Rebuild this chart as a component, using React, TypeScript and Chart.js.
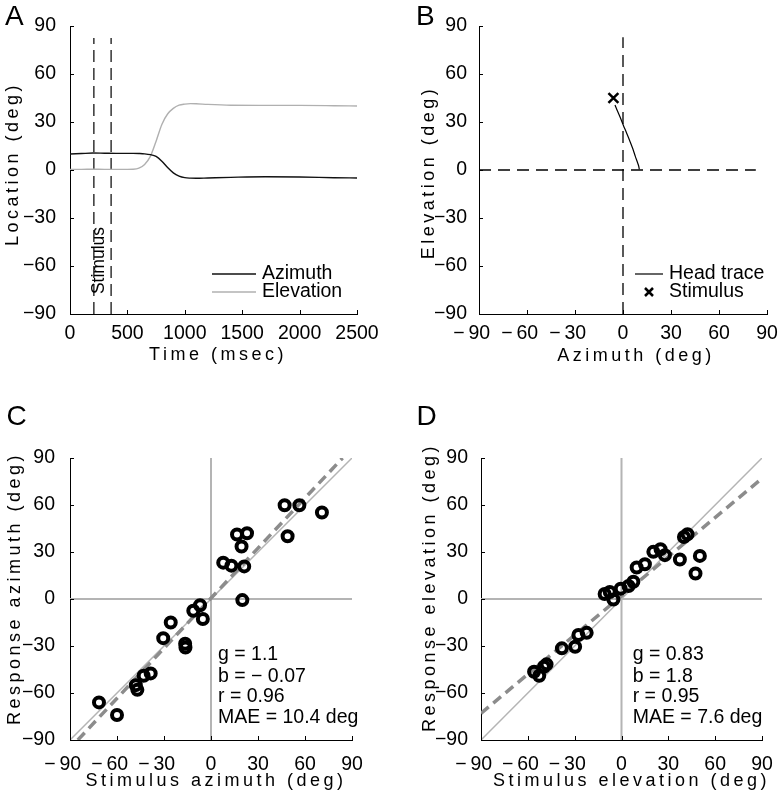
import React, { useEffect, useRef } from 'react';
import { Chart, registerables } from 'chart.js';

Chart.register(...registerables);

const FONT = "'Liberation Sans', Arial, Helvetica, sans-serif";

// ---------------- Panel A: head trace vs time ----------------
const timeMs = [0, 100, 200, 300, 400, 500, 550, 600, 650, 700, 750, 800, 850, 900, 950, 1000, 1050, 1100, 1200, 1400, 1700, 2000, 2300, 2500];
const azimuthDeg = [10.0, 10.3, 10.6, 10.5, 10.4, 10.4, 10.4, 10.3, 10.1, 9.6, 8.5, 5.5, 1.5, -1.8, -3.8, -4.8, -5.1, -5.2, -5.0, -4.6, -4.2, -4.4, -4.8, -5.0];
const elevationDeg = [0.4, 0.4, 0.5, 0.4, 0.4, 0.4, 0.5, 1.2, 3.5, 8.5, 18.0, 28.5, 35.0, 38.5, 40.5, 41.2, 41.5, 41.4, 41.0, 40.5, 40.4, 40.4, 40.2, 40.0];
const stimulusOnOffMs = [208, 358];
const stimulusLineSpan = [-90, 82.5];
const timeAxis = [0, 2500, 500];
const degAxis = [-90, 90, 30];

// ---------------- Panel B: head trace in space ----------------
const traceAz = [10.2, 9.8, 8.9, 7.7, 6.4, 4.5, 2.3, 0.2, -1.9, -3.6, -5.0];
const traceEl = [0.4, 2.5, 5.2, 8.5, 12.5, 17.5, 23.0, 28.0, 33.3, 37.2, 40.6];
const stimAz = [-6];
const stimEl = [45];
const refLineSpan = [-90, 83];

// ---------------- Panel C: azimuth responses ----------------
const cStimulusAz = [-71.5, -60, -48, -47, -43, -38.5, -30.5, -25.7, -16.5, -16.3, -11.3, -7, -5.2, 7.8, 13, 16.6, 23, 19.5, 21.2, 20, 47, 56.4, 48.9, 70.8];
const cResponseAz = [-66, -74, -55, -58, -49, -47.5, -25, -15, -28.5, -31, -7.5, -4, -12.8, 23.2, 21.3, 41.2, 42, 33.5, 20.8, -0.7, 59.8, 59.8, 40.1, 55.2];
const cFitX = [-85, 84];
const cFitY = [-90, 90];
const cStats = ['g = 1.1', 'b = \u2212 0.07', 'r = 0.96', 'MAE = 10.4 deg'];

// ---------------- Panel D: elevation responses ----------------
const dStimulusEl = [-56, -52.7, -49.7, -48, -38.2, -29.7, -27.6, -22.3, -10.8, -7.5, -5.2, -0.5, 4.5, 7.6, 9.7, 15, 20.4, 25, 27.8, 37.4, 40, 42.3, 47.4, 50.2];
const dResponseEl = [-46.4, -49, -43.2, -41.7, -31.5, -30.5, -23, -21.6, 3.2, 4.5, -0.3, 6.6, 8.3, 11, 20.1, 22.2, 30.1, 31.8, 28, 25.2, 39.6, 41.3, 16.3, 27.5];
const dFitX = [-90, 90];
const dFitY = [-73, 77];
const dStats = ['g = 0.83', 'b = 1.8', 'r = 0.95', 'MAE = 7.6 deg'];

const unitLine = [-90, 90];

// ---------------- helpers ----------------
const pts = (xs: number[], ys: number[]) => xs.map((x, i) => ({ x, y: ys[i] }));
const fmtY = (v: number) => (v < 0 ? '\u2212' + Math.abs(v) : String(v));
// x labels: digits centred on the tick, the minus hangs to the left
const fmtX = (v: number) => (v < 0 ? '\u2212\u2009' + Math.abs(v) + '\u2007\u2009' : String(v));

const TICK_SIZE = 19.5;

function axis(range: number[], horizontal: boolean, size: number, pad: number) {
  return {
    type: 'linear',
    min: range[0],
    max: range[1],
    ticks: {
      stepSize: range[2],
      padding: pad,
      color: '#000',
      font: { family: FONT, size: TICK_SIZE },
      maxRotation: 0,
      autoSkip: false,
      callback: (v: any) => (horizontal ? fmtX(Number(v)) : fmtY(Number(v))),
    },
    grid: { display: false },
    border: { display: true, color: '#000', width: 1 },
    afterFit: (s: any) => {
      if (horizontal) s.height = size;
      else s.width = size;
      s.paddingLeft = 0;
      s.paddingRight = 0;
      s.paddingTop = 0;
      s.paddingBottom = 0;
    },
  };
}

type Txt = { t: string; x: number; y: number; size: number; rot?: boolean; sp?: number; align?: CanvasTextAlign; base?: CanvasTextBaseline };
type Leg = { kind: 'line' | 'cross'; color: string; x1: number; x2: number; y: number; w: number };

function overlay(texts: Txt[], legs: Leg[]) {
  return {
    id: 'overlay',
    afterDraw(chart: any) {
      const { ctx, chartArea, scales } = chart;
      ctx.save();
      ctx.strokeStyle = '#000';
      ctx.lineWidth = 1;
      ctx.beginPath();
      for (const tk of scales.x.ticks) {
        const px = Math.round(scales.x.getPixelForValue(tk.value)) + 0.5;
        ctx.moveTo(px, chartArea.bottom);
        ctx.lineTo(px, chartArea.bottom - 4);
      }
      for (const tk of scales.y.ticks) {
        const py = Math.round(scales.y.getPixelForValue(tk.value)) + 0.5;
        ctx.moveTo(chartArea.left, py);
        ctx.lineTo(chartArea.left + 4, py);
      }
      ctx.stroke();
      for (const l of legs) {
        ctx.beginPath();
        ctx.strokeStyle = l.color;
        ctx.lineWidth = l.w;
        if (l.kind === 'line') {
          ctx.moveTo(l.x1, l.y);
          ctx.lineTo(l.x2, l.y);
        } else {
          const c = (l.x1 + l.x2) / 2;
          const r = (l.x2 - l.x1) / 2;
          ctx.moveTo(c - r, l.y - r);
          ctx.lineTo(c + r, l.y + r);
          ctx.moveTo(c - r, l.y + r);
          ctx.lineTo(c + r, l.y - r);
        }
        ctx.stroke();
      }
      for (const s of texts) {
        ctx.save();
        ctx.font = `${s.size}px ${FONT}`;
        ctx.fillStyle = '#000';
        (ctx as any).letterSpacing = `${s.sp ?? 0}px`;
        ctx.textAlign = s.align ?? 'center';
        ctx.textBaseline = s.base ?? 'middle';
        ctx.translate(s.x, s.y);
        if (s.rot) ctx.rotate(-Math.PI / 2);
        ctx.fillText(s.t, 0, 0);
        ctx.restore();
      }
      ctx.restore();
    },
  };
}

function baseOptions(pad: any, x: any, y: any) {
  return {
    responsive: false,
    animation: false,
    devicePixelRatio: 1,
    layout: { padding: pad },
    plugins: { legend: { display: false }, tooltip: { enabled: false } },
    scales: { x, y },
  };
}

const lineDs = (data: any[], color: string, width: number, dash: number[] = [], extra: any = {}) => ({
  data,
  showLine: true,
  borderColor: color,
  borderWidth: width,
  borderDash: dash,
  pointRadius: 0,
  fill: false,
  ...extra,
});

const SP = 3.5;
const LETTER = 28;

function configA() {
  return {
    type: 'scatter',
    data: {
      datasets: [
        lineDs(pts(timeMs, azimuthDeg), '#111', 1.4, [], { cubicInterpolationMode: 'monotone' }),
        lineDs(pts(timeMs, elevationDeg), '#b0b0b0', 1.4, [], { cubicInterpolationMode: 'monotone' }),
        lineDs(pts([stimulusOnOffMs[0], stimulusOnOffMs[0]], stimulusLineSpan), '#000', 1.2, [12, 6]),
        lineDs(pts([stimulusOnOffMs[1], stimulusOnOffMs[1]], stimulusLineSpan), '#000', 1.2, [12, 6]),
      ],
    },
    options: baseOptions({ left: 0, top: 26, right: 33, bottom: 0 }, axis(timeAxis, true, 81, 0), axis(degAxis, false, 70, 6)),
    plugins: [
      overlay(
        [
          { t: 'A', x: 5, y: 25, size: LETTER, align: 'left', base: 'alphabetic' },
          { t: 'Time (msec)', x: 218, y: 355, size: 18, sp: SP },
          { t: 'Location (deg)', x: 13, y: 164, size: 18, sp: SP, rot: true },
          { t: 'Stimulus', x: 99, y: 260.5, size: 17.5, rot: true },
          { t: 'Azimuth', x: 262, y: 274, size: 19.5, align: 'left' },
          { t: 'Elevation', x: 262, y: 292, size: 19.5, align: 'left' },
        ],
        [
          { kind: 'line', color: '#111', x1: 212, x2: 256, y: 274, w: 1.4 },
          { kind: 'line', color: '#b0b0b0', x1: 212, x2: 256, y: 292, w: 1.4 },
        ]
      ),
    ],
  };
}

function configB() {
  return {
    type: 'scatter',
    data: {
      datasets: [
        { data: pts(stimAz, stimEl), pointStyle: 'crossRot', pointRadius: 7, borderColor: '#000', borderWidth: 2.5, backgroundColor: '#000' },
        lineDs(pts(traceAz, traceEl), '#000', 1.2, [], { tension: 0.3 }),
        lineDs(pts([0, 0], refLineSpan), '#000', 1.3, [12, 7]),
        lineDs(pts(refLineSpan, [0, 0]), '#000', 1.3, [12, 7]),
      ],
    },
    options: baseOptions({ left: 0, top: 26, right: 13, bottom: 0 }, axis(degAxis, true, 81, 0), axis(degAxis, false, 89, 4)),
    plugins: [
      overlay(
        [
          { t: 'B', x: 26, y: 25, size: LETTER, align: 'left', base: 'alphabetic' },
          { t: 'Azimuth (deg)', x: 246, y: 356, size: 18, sp: SP },
          { t: 'Elevation (deg)', x: 39.5, y: 172.5, size: 18, sp: SP, rot: true },
          { t: 'Head trace', x: 279, y: 274, size: 19.5, align: 'left' },
          { t: 'Stimulus', x: 279, y: 292, size: 19.5, align: 'left' },
        ],
        [
          { kind: 'line', color: '#000', x1: 245, x2: 273, y: 274, w: 1.2 },
          { kind: 'cross', color: '#000', x1: 255, x2: 263, y: 292, w: 2.5 },
        ]
      ),
    ],
  };
}

function configScatter(sx: number[], sy: number[], fx: number[], fy: number[], letter: string, xt: string, yt: string, stats: string[], geo: any) {
  return {
    type: 'scatter',
    data: {
      datasets: [
        { data: pts(sx, sy), pointStyle: 'circle', pointRadius: 5, borderWidth: 4, borderColor: '#000', backgroundColor: 'rgba(0,0,0,0)' },
        lineDs(pts(fx, fy), '#8c8c8c', 3.5, [10, 6]),
        lineDs(pts(unitLine, unitLine), '#b4b4b4', 1.5),
        lineDs(pts([0, 0], unitLine), '#b4b4b4', 2),
        lineDs(pts(unitLine, [0, 0]), '#b4b4b4', 2),
      ],
    },
    options: baseOptions({ left: 0, top: 63, right: geo.padRight, bottom: 0 }, axis(degAxis, true, 53, 5), axis(degAxis, false, geo.yWidth, geo.yPad)),
    plugins: [
      overlay(
        [
          { t: letter, x: geo.letterX, y: 30, size: LETTER, align: 'left', base: 'alphabetic' },
          { t: xt, x: geo.xtX, y: 386, size: 18, sp: SP },
          { t: yt, x: geo.ytX, y: geo.ytY, size: 18, sp: SP, rot: true },
          ...stats.map((s, i) => ({ t: s, x: geo.statX, y: [260, 281.5, 302, 323][i], size: 19.5, align: 'left' as CanvasTextAlign })),
        ],
        []
      ),
    ],
  };
}

function Panel({ left, top, width, height, build }: { left: number; top: number; width: number; height: number; build: () => any }) {
  const ref = useRef<HTMLCanvasElement>(null);
  useEffect(() => {
    const chart = new Chart(ref.current as HTMLCanvasElement, build());
    return () => chart.destroy();
  }, []);
  return <canvas ref={ref} width={width} height={height} style={{ position: 'absolute', left, top, width, height }} />;
}

export default function App() {
  return (
    <div style={{ position: 'absolute', left: 0, top: 0, width: 780, height: 793, background: '#fff', overflow: 'hidden' }}>
      <Panel left={0} top={0} width={390} height={395} build={configA} />
      <Panel left={390} top={0} width={390} height={395} build={configB} />
      <Panel
        left={0}
        top={395}
        width={390}
        height={398}
        build={() =>
          configScatter(cStimulusAz, cResponseAz, cFitX, cFitY, 'C', 'Stimulus azimuth (deg)', 'Response azimuth (deg)', cStats, {
            padRight: 38, yWidth: 70, yPad: 7, letterX: 6.5, xtX: 216, ytX: 15, ytY: 193.5, statX: 218,
          })
        }
      />
      <Panel
        left={390}
        top={395}
        width={390}
        height={398}
        build={() =>
          configScatter(dStimulusEl, dResponseEl, dFitX, dFitY, 'D', 'Stimulus elevation (deg)', 'Response elevation (deg)', dStats, {
            padRight: 18, yWidth: 91, yPad: 5, letterX: 26.5, xtX: 241.5, ytX: 40, ytY: 192.5, statX: 242.7,
          })
        }
      />
    </div>
  );
}
